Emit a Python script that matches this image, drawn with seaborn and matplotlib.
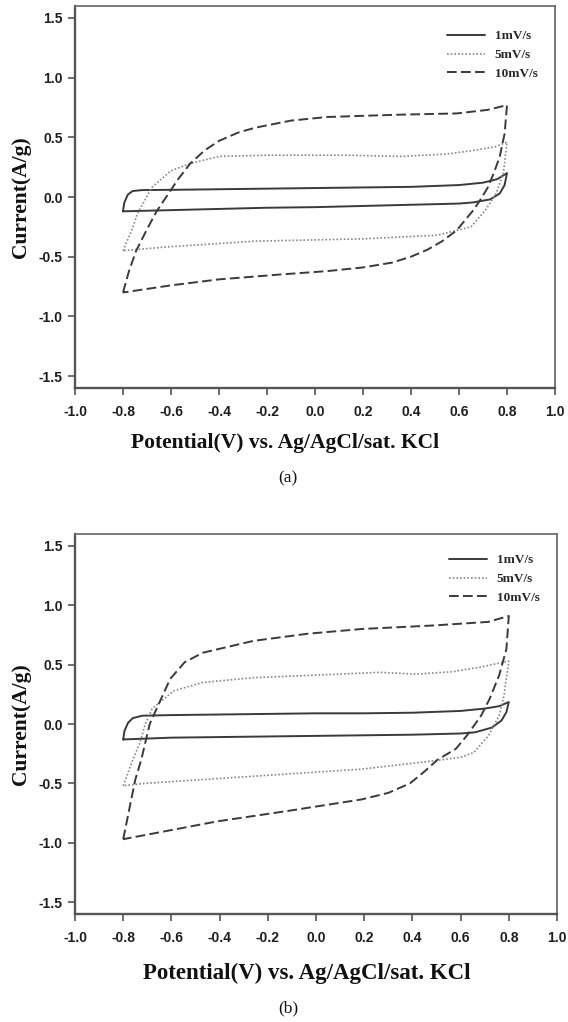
import numpy as np
import pandas as pd
import matplotlib
matplotlib.use("Agg")
import matplotlib.pyplot as plt
from matplotlib.ticker import FormatStrFormatter, MultipleLocator
import seaborn as sns

sns.set_theme(style="ticks")
plt.rcParams['font.family'] = ['Liberation Sans', 'DejaVu Sans']

RATES = ['1mV/s', '5mV/s', '10mV/s']

# ---- panel (a) : CV loops, potential (V) / current (A/g) ----
A1_X = [-0.80, -0.795, -0.78, -0.76, -0.72, -0.60, -0.40, -0.20, 0.00, 0.20, 0.40, 0.60, 0.70, 0.76, 0.80,
        0.79, 0.77, 0.73, 0.66, 0.60, 0.40, 0.20, 0.00, -0.20, -0.40, -0.60, -0.80]
A1_Y = [-0.12, -0.05, 0.02, 0.05, 0.058, 0.06, 0.065, 0.07, 0.075, 0.08, 0.085, 0.10, 0.12, 0.15, 0.20,
        0.10, 0.03, -0.02, -0.045, -0.055, -0.065, -0.075, -0.085, -0.09, -0.10, -0.11, -0.12]

A5_X = [-0.80, -0.76, -0.74, -0.71, -0.68, -0.60, -0.52, -0.40, -0.20, 0.00, 0.13, 0.36, 0.55, 0.66, 0.75, 0.80,
        0.785, 0.755, 0.71, 0.65, 0.51, 0.21, -0.25, -0.63, -0.80]
A5_Y = [-0.45, -0.26, -0.14, -0.03, 0.08, 0.22, 0.28, 0.34, 0.35, 0.35, 0.35, 0.34, 0.36, 0.39, 0.42, 0.46,
        0.20, 0.03, -0.11, -0.25, -0.32, -0.35, -0.37, -0.42, -0.45]

A10_X = [-0.80, -0.775, -0.745, -0.70, -0.66, -0.62, -0.57, -0.52, -0.46, -0.40, -0.32, -0.25, -0.10, 0.05, 0.20,
         0.36, 0.59, 0.72, 0.80,
         0.79, 0.77, 0.745, 0.72, 0.69, 0.66, 0.59, 0.53, 0.47, 0.40, 0.32, 0.20, 0.055, -0.15, -0.40, -0.60, -0.80]
A10_Y = [-0.80, -0.62, -0.45, -0.27, -0.12, 0.00, 0.15, 0.28, 0.39, 0.47, 0.54, 0.58, 0.64, 0.67, 0.68,
         0.69, 0.70, 0.73, 0.77,
         0.53, 0.34, 0.20, 0.08, -0.02, -0.11, -0.28, -0.37, -0.44, -0.50, -0.55, -0.59, -0.62, -0.65, -0.69, -0.74, -0.80]

# ---- panel (b) ----
B1_X = [-0.80, -0.795, -0.78, -0.76, -0.72, -0.60, -0.40, -0.20, 0.00, 0.20, 0.40, 0.60, 0.70, 0.76, 0.80,
        0.79, 0.77, 0.73, 0.66, 0.60, 0.40, 0.20, 0.00, -0.20, -0.40, -0.60, -0.80]
B1_Y = [-0.13, -0.06, 0.01, 0.05, 0.07, 0.075, 0.08, 0.085, 0.09, 0.09, 0.095, 0.11, 0.13, 0.15, 0.185,
        0.10, 0.03, -0.03, -0.07, -0.08, -0.09, -0.095, -0.10, -0.105, -0.11, -0.115, -0.13]

B5_X = [-0.80, -0.76, -0.73, -0.71, -0.68, -0.59, -0.47, -0.26, 0.04, 0.265, 0.415, 0.565, 0.685, 0.80,
        0.78, 0.76, 0.715, 0.655, 0.60, 0.49, 0.19, -0.26, -0.71, -0.80]
B5_Y = [-0.52, -0.30, -0.155, -0.01, 0.13, 0.28, 0.35, 0.39, 0.415, 0.435, 0.42, 0.44, 0.48, 0.53,
        0.24, 0.07, -0.10, -0.24, -0.28, -0.31, -0.38, -0.44, -0.50, -0.52]

B10_X = [-0.80, -0.75, -0.725, -0.69, -0.65, -0.605, -0.545, -0.47, -0.26, -0.035, 0.19, 0.49, 0.715, 0.80,
         0.79, 0.76, 0.72, 0.685, 0.625, 0.58, 0.505, 0.45, 0.39, 0.30, 0.19, -0.11, -0.41, -0.80]
B10_Y = [-0.97, -0.47, -0.30, 0.00, 0.18, 0.38, 0.52, 0.60, 0.70, 0.76, 0.80, 0.83, 0.86, 0.91,
         0.63, 0.41, 0.21, 0.07, -0.10, -0.21, -0.30, -0.40, -0.50, -0.58, -0.635, -0.73, -0.82, -0.97]

STYLES = {
    '1mV/s': dict(color='#3a3a3a', linestyle='-', linewidth=1.4),
    '5mV/s': dict(color='#888888', linestyle=(0, (1, 1.2)), linewidth=1.2),
    '10mV/s': dict(color='#3a3a3a', linestyle=(0, (5, 2.2)), linewidth=1.4),
}

SERIF = ['Liberation Serif', 'DejaVu Serif']


def make_df(loops):
    frames = []
    for rate, (xs, ys) in zip(RATES, loops):
        frames.append(pd.DataFrame({'potential': xs, 'current': ys, 'rate': rate,
                                    'step': np.arange(len(xs))}))
    return pd.concat(frames, ignore_index=True)


def draw_panel(fig, rect, df, legend_xy, xlabel_x, xlabel_y, xlabel_size, tag, tag_y):
    ax = fig.add_axes(rect)
    for rate in RATES:
        sub = df[df['rate'] == rate]
        st = STYLES[rate]
        sns.lineplot(data=sub, x='potential', y='current', sort=False, estimator=None,
                     ax=ax, label=rate, color=st['color'], linewidth=st['linewidth'])
        ax.lines[-1].set_linestyle(st['linestyle'])

    ax.set_xlim(-1.0, 1.0)
    ax.set_ylim(-1.6, 1.6)
    ax.xaxis.set_major_locator(MultipleLocator(0.2))
    ax.yaxis.set_major_locator(MultipleLocator(0.5))
    ax.xaxis.set_major_formatter(FormatStrFormatter('%.1f'))
    ax.yaxis.set_major_formatter(FormatStrFormatter('%.1f'))
    ax.set_xlabel('')
    ax.set_ylabel('')

    for side in ['left', 'bottom']:
        ax.spines[side].set_linewidth(1.7)
        ax.spines[side].set_color('#555555')
    for side in ['top', 'right']:
        ax.spines[side].set_linewidth(1.3)
        ax.spines[side].set_color('#707070')
    ax.tick_params(axis='x', direction='out', length=5, width=1.2, color='#555555',
                   labelsize=10, pad=7, labelcolor='#1e1e1e')
    ax.tick_params(axis='y', direction='out', length=5, width=1.2, color='#555555',
                   labelsize=10, pad=4, labelcolor='#1e1e1e')
    for lbl in ax.get_xticklabels() + ax.get_yticklabels():
        lbl.set_fontweight('bold')

    leg = ax.legend(loc='upper left', bbox_to_anchor=legend_xy, frameon=False,
                    handlelength=2.9, handletextpad=0.7, labelspacing=0.5,
                    borderaxespad=0, borderpad=0,
                    prop=dict(family=SERIF, weight='bold', size=9.5))
    for h, rate in zip(leg.get_lines(), RATES):
        h.set_linestyle(STYLES[rate]['linestyle'])

    # y label, x label and panel tag
    pos = ax.get_position()
    fig.text(21 / 568, pos.y0 + pos.height / 2, 'Current(A/g)', rotation=90, ha='center', va='center',
             family=SERIF, weight='bold', fontsize=15.5, color='#111111')
    fig.text(xlabel_x, xlabel_y, 'Potential(V) vs. Ag/AgCl/sat. KCl', ha='center', va='center',
             family=SERIF, weight='bold', fontsize=xlabel_size, color='#111111')
    fig.text(288 / 568, tag_y, tag, ha='center', va='center', family=SERIF, fontsize=12.5,
             color='#111111')
    return ax


W, H = 568, 1022
fig = plt.figure(figsize=(W / 100, H / 100), dpi=100)

df_a = make_df([(A1_X, A1_Y), (A5_X, A5_Y), (A10_X, A10_Y)])
df_b = make_df([(B1_X, B1_Y), (B5_X, B5_Y), (B10_X, B10_Y)])

draw_panel(fig, [75 / W, 1 - 388 / H, 480 / W, 382 / H], df_a, (0.775, 0.937),
           285 / W, 1 - 443 / H, 15.5, '(a)', 1 - 478 / H)
draw_panel(fig, [75 / W, 1 - 914 / H, 482 / W, 380 / H], df_b, (0.776, 0.947),
           307 / W, 1 - 973 / H, 16.5, '(b)', 1 - 1008 / H)

fig.savefig('out.png', dpi=100)
